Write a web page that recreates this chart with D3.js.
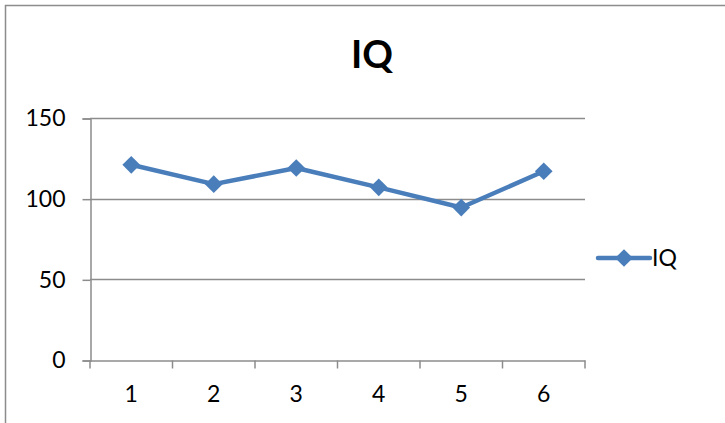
<!DOCTYPE html>
<html>
<head>
<meta charset="utf-8">
<script src="https://cdn.jsdelivr.net/npm/d3@7"></script>
<style>
  body { margin: 0; background: #fff; }
  text { font-family: Lato, "Liberation Sans", sans-serif; }
</style>
</head>
<body>
<script>
// data
let categories = ['1', '2', '3', '4', '5', '6'];
let iqValues = [121, 109, 119, 107, 94.5, 117];
let yTicks = [0, 50, 100, 150];
let seriesName = 'IQ';

let width = 725;
let height = 423;

let svg = d3.select('body')
    .append('svg')
    .attr('width', width)
    .attr('height', height);

// chart frame
svg.append('path')
    .attr('d', 'M5.5,' + height + ' L5.5,5.5 L' + width + ',5.5')
    .attr('fill', 'none')
    .attr('stroke', '#8c8c8c')
    .attr('stroke-width', 1.5);

// plot area
let plot = {left: 90, right: 585, top: 118, bottom: 360};

let x = d3.scaleBand()
    .domain(categories)
    .range([plot.left, plot.right]);

let y = d3.scaleLinear()
    .domain([0, 150])
    .range([plot.bottom, plot.top]);

// gridlines
svg.append('g')
    .selectAll('line')
    .data(yTicks.filter(d => d > 0))
    .enter()
    .append('line')
    .attr('x1', plot.left)
    .attr('x2', plot.right)
    .attr('y1', d => Math.round(y(d)) + 0.5)
    .attr('y2', d => Math.round(y(d)) + 0.5)
    .attr('stroke', '#8c8c8c')
    .attr('stroke-width', 1.5);

// y axis
let yAxis = svg.append('g')
    .attr('transform', 'translate(' + (plot.left + 0.5) + ',0.5)')
    .call(d3.axisLeft(y).tickValues(yTicks).tickSize(8).tickPadding(17));

// x axis
let xAxis = svg.append('g')
    .attr('transform', 'translate(0,' + (plot.bottom + 0.5) + ')')
    .call(d3.axisBottom(x).tickSize(0).tickPadding(25));

// category tick marks on band edges
xAxis.selectAll('.edge')
    .data(d3.range(categories.length + 1))
    .enter()
    .append('line')
    .attr('class', 'edge')
    .attr('x1', i => x.range()[0] + i * x.step())
    .attr('x2', i => x.range()[0] + i * x.step())
    .attr('y1', 0)
    .attr('y2', 8);

[yAxis, xAxis].forEach(function (g) {
    g.selectAll('path.domain').attr('stroke', '#8c8c8c').attr('stroke-width', 1.5);
    g.selectAll('line').attr('stroke', '#8c8c8c').attr('stroke-width', 1.5);
    g.selectAll('text')
        .attr('fill', '#000')
        .attr('font-size', '23px')
        .style('font-family', 'Lato, "Liberation Sans", sans-serif');
});

let blue = '#4a7ebb';

// line
let line = d3.line()
    .x((d, i) => x(categories[i]) + x.bandwidth() / 2)
    .y(d => y(d));

svg.append('path')
    .datum(iqValues)
    .attr('d', line)
    .attr('fill', 'none')
    .attr('stroke', blue)
    .attr('stroke-width', 4.5)
    .attr('stroke-linejoin', 'round');

let diamond = d3.symbol().type(d3.symbolDiamond2).size(200);

svg.selectAll('.marker')
    .data(iqValues)
    .enter()
    .append('path')
    .attr('class', 'marker')
    .attr('d', diamond)
    .attr('fill', blue)
    .attr('transform', (d, i) => 'translate(' + (x(categories[i]) + x.bandwidth() / 2) + ',' + y(d) + ')');

// title
svg.append('text')
    .attr('x', 372)
    .attr('y', 68)
    .attr('text-anchor', 'middle')
    .attr('font-size', '38px')
    .attr('font-weight', 'bold')
    .attr('fill', '#000')
    .text(seriesName);

// legend
let legend = svg.append('g').attr('transform', 'translate(598,258)');
legend.append('line')
    .attr('x1', 0).attr('x2', 52)
    .attr('stroke', blue)
    .attr('stroke-width', 4.5)
    .attr('stroke-linecap', 'round');
legend.append('path')
    .attr('d', diamond)
    .attr('fill', blue)
    .attr('transform', 'translate(26,0)');
legend.append('text')
    .attr('x', 54)
    .attr('y', 8)
    .attr('font-size', '23px')
    .attr('fill', '#000')
    .text(seriesName);
</script>
</body>
</html>
